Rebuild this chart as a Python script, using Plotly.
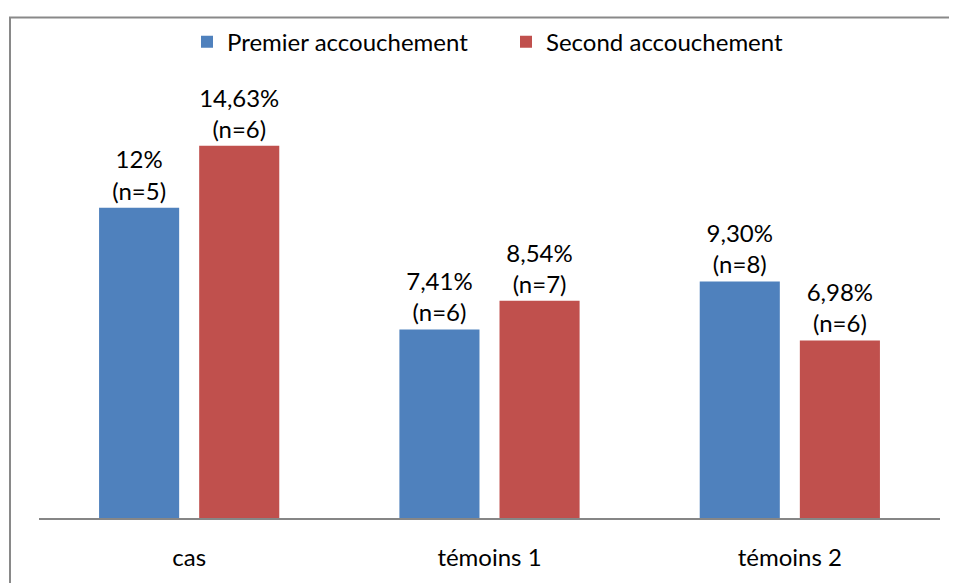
import plotly.graph_objects as go

categories = ["cas", "témoins 1", "témoins 2"]
series_names = ["Premier accouchement", "Second accouchement"]
premier_values = [12.2, 7.41, 9.30]
second_values = [14.63, 8.54, 6.98]
premier_labels = ["12%<br>(n=5)", "7,41%<br>(n=6)", "9,30%<br>(n=8)"]
second_labels = ["14,63%<br>(n=6)", "8,54%<br>(n=7)", "6,98%<br>(n=6)"]
colors = ["#4F81BD", "#C0504D"]

FONT = "Lato"
# page has an 8px body margin; figure coordinates = page - 8
W, H = 949, 575
ml, mr, mt, mb = 31, 17, 101, 60
pw = W - ml - mr
ph = H - mt - mb
base = H - mb

fig = go.Figure()
for name, vals, labs, col in [
    (series_names[0], premier_values, premier_labels, colors[0]),
    (series_names[1], second_values, second_labels, colors[1]),
]:
    fig.add_trace(go.Bar(
        name=name, x=categories, y=vals, text=labs,
        textposition="outside", textfont=dict(family=FONT, size=24, color="#000000"),
        marker=dict(color=col, line=dict(width=0)),
        cliponaxis=False,
    ))

fx0 = (2 - ml) / pw
fx1 = (W + 20 - ml) / pw
fy_top = (base - 6) / ph
fy_bot = (base - (H + 20)) / ph
frame_path = f"M {fx0},{fy_bot} L {fx0},{fy_top} L {fx1},{fy_top}"

fig.update_layout(
    width=W, height=H,
    margin=dict(l=ml, r=mr, t=mt, b=mb, pad=0),
    paper_bgcolor="white", plot_bgcolor="white",
    barmode="group", bargap=1/3, bargroupgap=0.2,
    font=dict(family=FONT, size=24, color="#000000"),
    showlegend=True,
    legend=dict(orientation="h", x=(179 - ml) / pw, xanchor="left",
                y=(base - 31) / ph, yanchor="middle",
                entrywidth=274, entrywidthmode="pixels",
                font=dict(family=FONT, size=24), bgcolor="rgba(0,0,0,0)",
                itemclick=False),
    xaxis=dict(showline=True, linecolor="#868686", linewidth=2, ticks="",
               showgrid=False, tickfont=dict(family=FONT, size=24),
               ticklabelstandoff=17),
    yaxis=dict(range=[0, 16], visible=False, showgrid=False, zeroline=False),
    shapes=[dict(type="path", xref="paper", yref="paper", path=frame_path,
                 line=dict(color="#898989", width=2), layer="below")],
)
fig.write_html("out.html")
